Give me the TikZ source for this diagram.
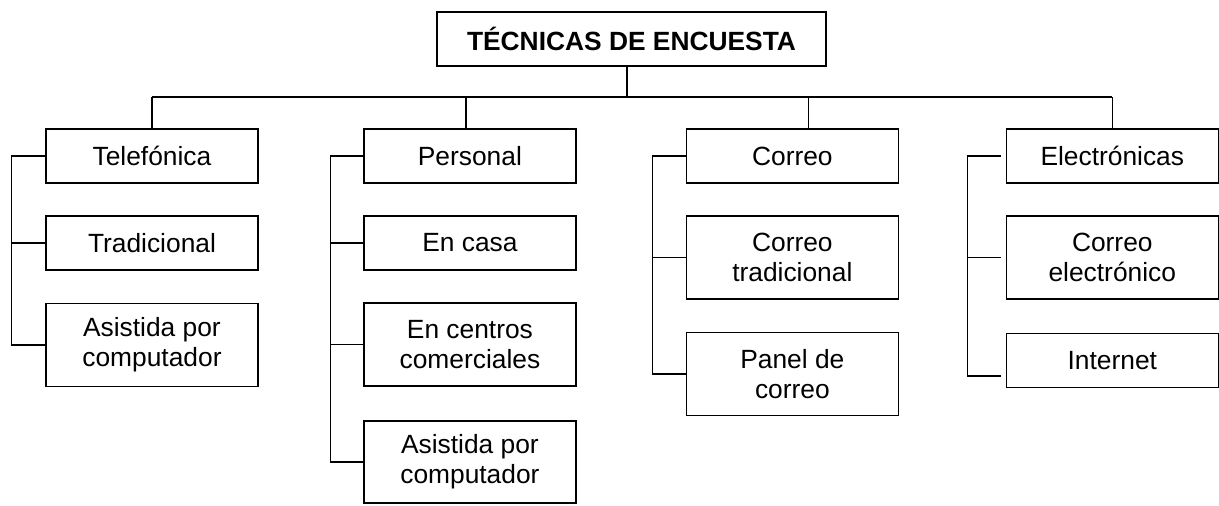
\documentclass[tikz,border=0pt]{standalone}
\usepackage{fontspec}
\setmainfont{Liberation Sans}
\tikzset{
	caja/.style={draw, line width=.7pt, inner sep=0pt, minimum width=4.24cm, minimum height=1.08cm, align=center, font=\fontsize{15}{17}\selectfont},
	alta/.style={minimum height=1.66cm},
	linea/.style={line width=.7pt},
}
\begin{document}
\begin{tikzpicture}[x=.02cm, y=-.02cm]
\useasboundingbox (0,0) rectangle (1219,505);
	\node[caja, minimum width=7.78cm, font=\fontsize{15}{17}\selectfont\bfseries] (titulo) at (631.5,39) {TÉCNICAS DE ENCUESTA};
	\coordinate (barra) at (627,97);

\begin{scope}[xshift=3.04cm]
	\node[caja] (tel) at (0,156) {Telefónica};
	\node[caja] (trad) at (0,243) {Tradicional};
	\node[caja, alta] (asis1) at (0,345) {Asistida por\\computador};
	\draw[linea] (tel.west) -- ++(-34,0) |- (asis1.west);
	\draw[linea] (trad.west) -- ++(-34,0);
\end{scope}
\begin{scope}[xshift=9.4cm]
	\node[caja] (pers) at (0,156) {Personal};
	\node[caja] (casa) at (0,243) {En casa};
	\node[caja, alta] (centros) at (0,344.5) {En centros\\comerciales};
	\node[caja, minimum height=1.64cm] (asis2) at (0,462) {Asistida por\\computador};
	\draw[linea] (pers.west) -- ++(-33,0) |- (asis2.west);
	\draw[linea] (casa.west) -- ++(-33,0);
	\draw[linea] (centros.west) -- ++(-33,0);
\end{scope}
\begin{scope}[xshift=15.85cm]
	\node[caja] (correo) at (0,156) {Correo};
	\node[caja, alta] (ctrad) at (0,257.5) {Correo\\tradicional};
	\node[caja, alta] (panel) at (0,374) {Panel de\\correo};
	\draw[linea] (correo.west) -- ++(-33,0) |- (panel.west);
	\draw[linea] (ctrad.west) -- ++(-33,0);
\end{scope}
\begin{scope}[xshift=22.25cm]
	\node[caja] (elec) at (0,156) {Electrónicas};
	\node[caja, alta] (celec) at (0,257.5) {Correo\\electrónico};
	\node[caja] (inter) at (0,360.5) {Internet};
	\draw[linea] ([xshift=-.1cm]elec.west) -- ++(-33,0) |- ([shift={(-.1cm,-.31cm)}]inter.west);
	\draw[linea] ([xshift=-.1cm]celec.west) -- ++(-33,0);
\end{scope}

	% ramas del titulo
	\draw[linea] (barra |- titulo.south) -- (barra);
	\draw[linea] (tel.north |- barra) -- (elec.north |- barra);
	\draw[linea] (tel.north) -- (tel.north |- barra);
	\draw[linea] ([xshift=-.08cm]pers.north) -- ([xshift=-.08cm]pers.north |- barra);
	\draw[linea] ([xshift=.33cm]correo.north) -- ([xshift=.33cm]correo.north |- barra);
	\draw[linea] (elec.north) -- (elec.north |- barra);
\end{tikzpicture}
\end{document}
